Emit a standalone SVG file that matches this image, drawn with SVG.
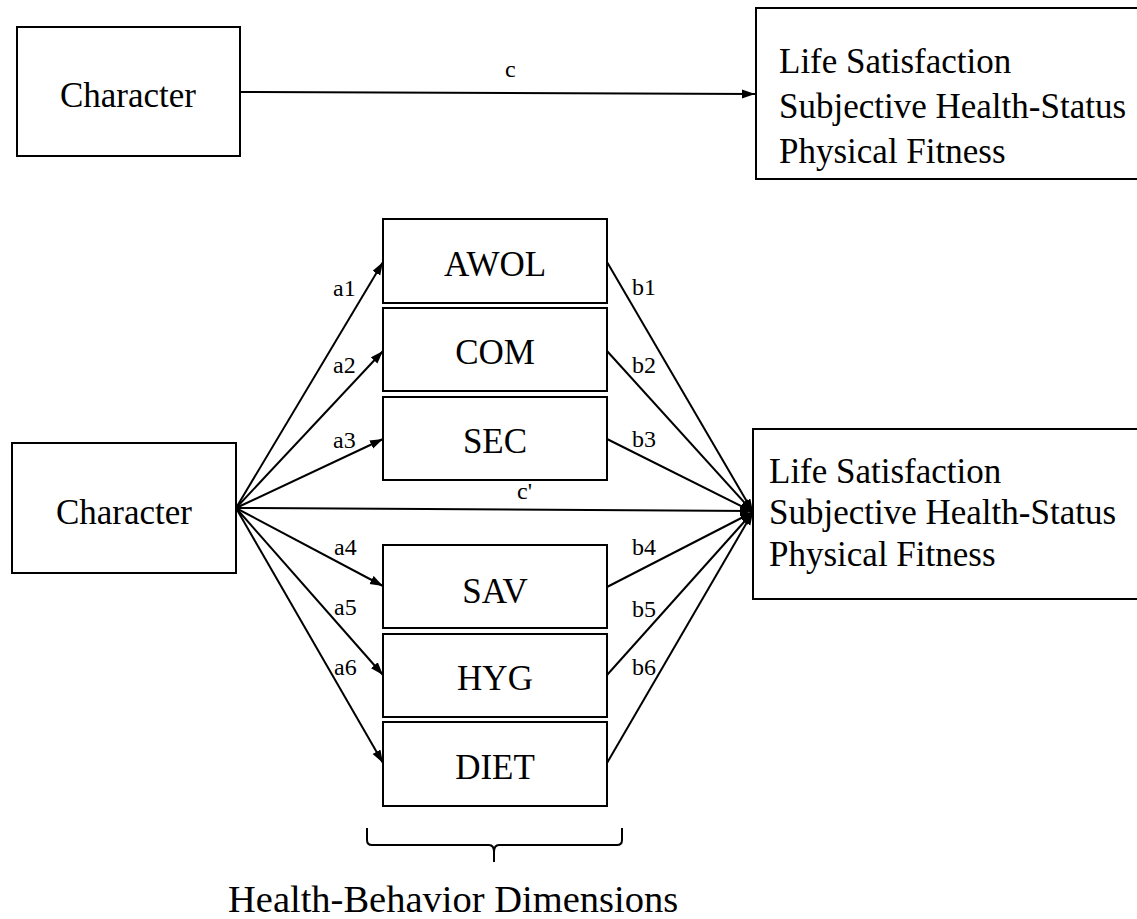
<svg xmlns="http://www.w3.org/2000/svg" width="1137" height="919" viewBox="0 0 1137 919">
<style>
.box{fill:#fff;stroke:#000;stroke-width:2}
.t{font-family:"Liberation Serif","Times New Roman",serif;font-size:35px;fill:#000}
.mid{text-anchor:middle}
.lbl{font-family:"Liberation Serif","Times New Roman",serif;font-size:24px;fill:#000}
.ln{stroke:#000;stroke-width:2;fill:none;marker-end:url(#ah)}
.ln2{stroke:#000;stroke-width:2;fill:none}
</style>
<defs>
<marker id="ah" markerUnits="userSpaceOnUse" markerWidth="14" markerHeight="10" refX="13" refY="4.5" orient="auto">
<path d="M0,0 L13,4.5 L0,9 z" fill="#000"/>
</marker>
</defs>
<rect width="1137" height="919" fill="#fff"/>
<g id="connectors">
<line class="ln" x1="240" y1="92" x2="755" y2="94"/>
<line class="ln" x1="236" y1="508" x2="383" y2="262"/>
<line class="ln" x1="236" y1="508" x2="383" y2="351"/>
<line class="ln" x1="236" y1="508" x2="383" y2="439"/>
<line class="ln" x1="236" y1="508" x2="753" y2="511"/>
<line class="ln" x1="236" y1="508" x2="383" y2="586"/>
<line class="ln" x1="236" y1="508" x2="383" y2="675"/>
<line class="ln" x1="236" y1="508" x2="383" y2="763"/>
<line class="ln" x1="607" y1="262" x2="753" y2="512"/>
<line class="ln" x1="607" y1="351" x2="753" y2="512"/>
<line class="ln" x1="607" y1="439" x2="753" y2="512"/>
<line class="ln" x1="607" y1="587" x2="753" y2="512"/>
<line class="ln" x1="607" y1="675" x2="753" y2="512"/>
<line class="ln" x1="607" y1="763" x2="753" y2="512"/>
<text class="lbl" x="505" y="77">c</text>
<text class="lbl" x="517" y="499">c'</text>
<text class="lbl" x="333" y="296">a1</text>
<text class="lbl" x="333" y="373">a2</text>
<text class="lbl" x="333" y="448">a3</text>
<text class="lbl" x="334" y="555">a4</text>
<text class="lbl" x="334" y="615">a5</text>
<text class="lbl" x="334" y="675">a6</text>
<text class="lbl" x="632" y="295">b1</text>
<text class="lbl" x="632" y="373">b2</text>
<text class="lbl" x="632" y="447">b3</text>
<text class="lbl" x="632" y="555">b4</text>
<text class="lbl" x="632" y="617">b5</text>
<text class="lbl" x="632" y="675">b6</text>
</g>
<g id="character-top">
<rect class="box" x="17" y="27" width="223" height="129"/>
<text class="t mid" x="128" y="107">Character</text>
</g>
<g id="outcomes-top">
<rect class="box" x="756" y="8" width="400" height="171"/>
<text class="t" x="779" y="73">Life Satisfaction</text>
<text class="t" x="779" y="118">Subjective Health-Status</text>
<text class="t" x="779" y="163">Physical Fitness</text>
</g>
<g id="character-bottom">
<rect class="box" x="12" y="443" width="224" height="130"/>
<text class="t mid" x="124" y="524">Character</text>
</g>
<g id="awol">
<rect class="box" x="383" y="219" width="224" height="84"/>
<text class="t mid" x="495" y="276">AWOL</text>
</g>
<g id="com">
<rect class="box" x="383" y="308" width="224" height="83"/>
<text class="t mid" x="495" y="364">COM</text>
</g>
<g id="sec">
<rect class="box" x="383" y="397" width="224" height="83"/>
<text class="t mid" x="495" y="453">SEC</text>
</g>
<g id="sav">
<rect class="box" x="383" y="545" width="224" height="83"/>
<text class="t mid" x="495" y="603">SAV</text>
</g>
<g id="hyg">
<rect class="box" x="383" y="634" width="224" height="83"/>
<text class="t mid" x="495" y="690">HYG</text>
</g>
<g id="diet">
<rect class="box" x="383" y="722" width="224" height="84"/>
<text class="t mid" x="495" y="779">DIET</text>
</g>
<g id="outcomes-bottom">
<rect class="box" x="753" y="429" width="400" height="170"/>
<text class="t" x="769" y="483">Life Satisfaction</text>
<text class="t" x="769" y="524">Subjective Health-Status</text>
<text class="t" x="769" y="566">Physical Fitness</text>
</g>
<g id="brace">
<path class="ln2" d="M367,828 L367,840 Q367,845 372,845 L489,845 Q494,845 494,852 L494,862 M494,852 Q494,845 499,845 L617,845 Q622,845 622,840 L622,828"/>
<text class="t" x="228" y="912" style="font-size:38.5px">Health-Behavior Dimensions</text>
</g>
</svg>
